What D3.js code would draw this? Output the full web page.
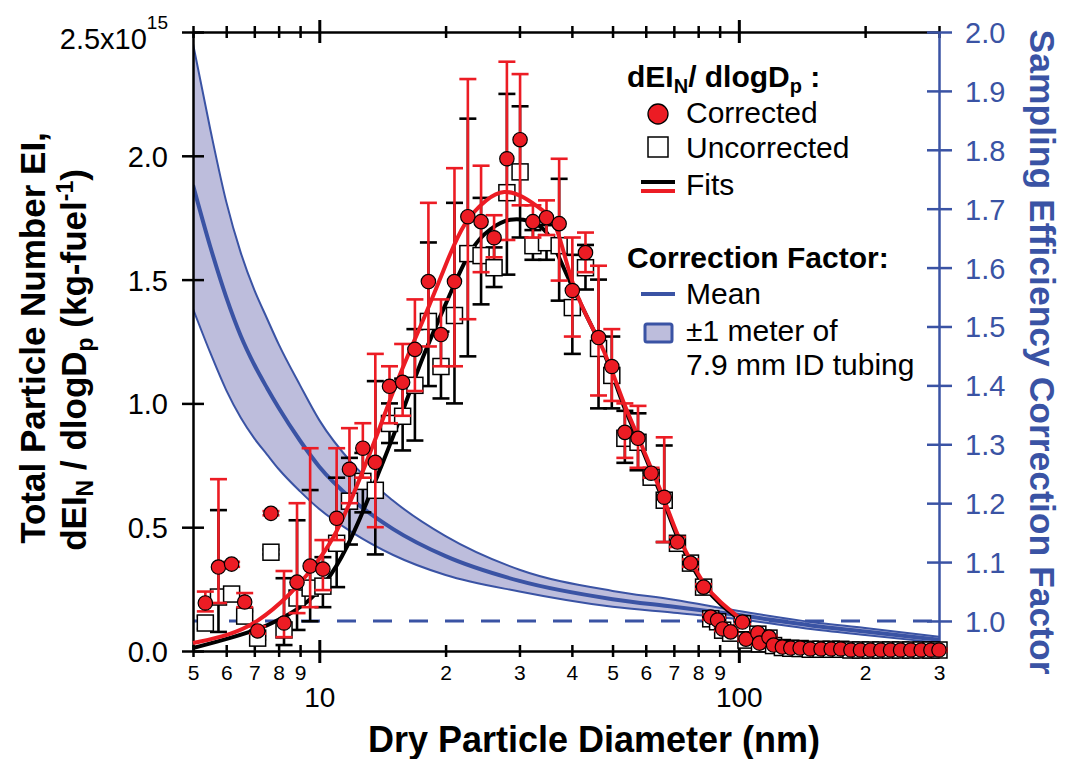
<!DOCTYPE html>
<html><head><meta charset="utf-8">
<script src="https://cdn.jsdelivr.net/npm/d3@7"></script>
<style>
body{margin:0;background:#fff;}
svg text{font-family:"Liberation Sans",Arial,Helvetica,sans-serif;}
</style></head><body>
<svg id="c" width="1065" height="759"></svg>
<script>
// ---------- DATA ----------
// SMPS bins (nm)
const diamMain = [5.35,5.75,6.18,6.64,7.13,7.67,8.24,8.85,9.51,10.2,11.0,11.8,12.7,13.6,14.7,15.8,16.9,18.2,19.5,21.0,22.6,24.3,26.1,28.0,30.1,32.3,34.8,37.3,40.1,43.1,46.3,49.8,53.5,57.5,61.8,66.4,71.4,76.7,82.4];
// corrected dEI_N/dlogDp (x1e15)
const corr   = [0.194,0.339,0.351,0.198,0.081,0.556,0.113,0.278,0.343,0.331,0.536,0.734,0.819,0.762,1.069,1.085,1.218,1.492,1.278,1.492,1.754,1.734,1.669,1.988,2.065,1.734,1.750,1.726,1.456,1.609,1.266,1.149,0.883,0.859,0.718,0.621,0.440,0.355,0.258];
const corrHi = [0.24,0.694,0.36,0.234,0.10,0.565,0.323,0.597,0.819,0.448,0.819,0.90,0.92,1.20,1.15,1.24,1.42,1.81,1.42,1.95,2.31,1.96,1.76,2.38,2.33,1.80,1.82,1.988,1.67,1.69,1.556,1.30,1.00,0.99,0.74,0.863,0.46,0.37,0.27];
const corrLo = [0.16,0.194,0.34,0.177,0.07,0.548,0.056,0.153,0.177,0.246,0.448,0.597,0.70,0.50,0.92,0.95,1.05,1.23,1.15,1.15,1.34,1.53,1.59,1.66,1.80,1.67,1.68,1.496,1.27,1.53,1.032,1.01,0.78,0.74,0.70,0.44,0.42,0.34,0.25];
// uncorrected
const unc    = [0.113,0.218,0.230,0.141,0.052,0.399,0.085,0.214,0.254,0.262,0.435,0.605,0.685,0.649,0.919,0.948,1.073,1.331,1.149,1.355,1.605,1.597,1.548,1.851,1.935,1.637,1.649,1.637,1.387,1.548,1.222,1.113,0.859,0.843,0.702,0.609,0.435,0.355,0.258];
const uncHi  = [0.14,0.569,0.24,0.16,0.06,0.41,0.294,0.528,0.65,0.379,0.70,0.78,0.80,1.09,1.00,1.10,1.30,1.65,1.29,1.81,2.15,1.83,1.63,2.25,2.20,1.70,1.72,1.907,1.60,1.64,1.50,1.27,0.97,0.96,0.72,0.83,0.45,0.37,0.27];
const uncLo  = [0.09,0.077,0.22,0.12,0.045,0.39,0.024,0.085,0.12,0.177,0.258,0.43,0.56,0.39,0.84,0.81,0.85,1.07,1.02,1.00,1.19,1.40,1.47,1.52,1.67,1.58,1.58,1.415,1.20,1.46,0.98,0.98,0.76,0.73,0.69,0.44,0.42,0.34,0.25];
// large-size tail
const diamTail = [85.7,89.0,91.5,95.6,102,104,111,112,118,121,127,133,140,148,157,166,175,185,195,206,218,230,243,257,272,287,300];
const corrTail = [0.137,0.125,0.089,0.077,0.117,0.048,0.073,0.032,0.056,0.024,0.016,0.012,0.012,0.008,0.008,0.008,0.008,0.004,0.004,0.004,0.004,0.004,0.004,0.004,0.004,0.004,0.004];
const uncTail  = [0.130,0.118,0.084,0.072,0.110,0.044,0.068,0.029,0.052,0.022,0.014,0.011,0.010,0.007,0.007,0.007,0.007,0.004,0.004,0.004,0.004,0.004,0.004,0.004,0.004,0.004,0.004];
const errTail  = [0.010,0.010,0.008,0.008,0.008,0.006,0.006,0.006,0.006,0.005,0.005,0.005,0.005,0.005,0.005,0.005,0.005,0.005,0.005,0.005,0.005,0.005,0.005,0.005,0.005,0.005,0.005];
// fits
const fitUncD = [5.0,6.13,7.34,8.52,9.51,11.0,12.5,14.0,15.3,17.7,20.5,22.9,25.6,28.5,31.9,35.0,36.9,40.4,46.1,49.4,53.1,57.4,61.6,66.2,71.5,76.8,82.5,90.5,99.4];
const fitUncV = [0.012,0.052,0.093,0.150,0.200,0.330,0.530,0.740,0.900,1.200,1.440,1.630,1.710,1.750,1.740,1.700,1.605,1.456,1.266,1.145,0.984,0.863,0.730,0.609,0.448,0.355,0.258,0.185,0.133];
const fitCorD = [5.0,6.13,7.1,8.52,9.66,10.8,12.0,13.6,15.3,17.7,20.2,22.0,25.2,27.5,30.6,34.2,36.9,40.1,46.2,49.4,53.1,57.4,61.6,66.2,71.5,76.8,82.5,90.5,99.9];
const fitCorV = [0.032,0.065,0.113,0.226,0.335,0.448,0.621,0.851,1.093,1.335,1.577,1.730,1.831,1.863,1.839,1.778,1.734,1.456,1.266,1.153,1.000,0.871,0.742,0.621,0.460,0.367,0.266,0.194,0.137];
// correction factor (right axis)
const cfD     = [5,5.5,6,6.5,7,7.5,8,9,10,12,15,20,30,50,70,100,150,200,300];
const cfUpper = [1.980,1.834,1.712,1.625,1.562,1.514,1.470,1.400,1.341,1.267,1.204,1.144,1.087,1.051,1.036,1.017,0.998,0.988,0.973];
const cfMean  = [1.740,1.635,1.550,1.484,1.435,1.396,1.362,1.306,1.262,1.206,1.156,1.110,1.068,1.037,1.024,1.010,0.992,0.982,0.968];
const cfLower = [1.530,1.455,1.392,1.345,1.310,1.283,1.258,1.220,1.190,1.150,1.112,1.078,1.050,1.024,1.014,1.003,0.986,0.976,0.963];
// ticks
const xMinor = [5,6,7,8,9,20,30,40,50,60,70,80,90,200,300];
const xMajor = [10,100];
const yTicks = [0,0.5,1,1.5,2,2.5];
const y2Ticks = [1.0,1.1,1.2,1.3,1.4,1.5,1.6,1.7,1.8,1.9,2.0];

// ---------- SETUP ----------
const L=193,R=939,T=32,B=651;
const blue="#3a53a4", red="#ec1c24", bandFill="#bdbddc";
const x=d3.scaleLog().domain([5,300]).range([L,R]);
const y=d3.scaleLinear().domain([0,2.5]).range([B,T]);
const y2=d3.scaleLinear().domain([0.949,2.0]).range([B,T]);
const svg=d3.select("#c");
svg.append("defs").append("clipPath").attr("id","plot").append("rect")
  .attr("x",L).attr("y",T-2).attr("width",R-L+6).attr("height",B-T+4);

// ---------- CORRECTION FACTOR BAND ----------
const cf=cfD.map((d,i)=>({d,m:cfMean[i],u:cfUpper[i],l:cfLower[i]}));
const gb=svg.append("g").attr("clip-path","url(#plot)");
gb.append("path").datum(cf).attr("fill",bandFill)
  .attr("d",d3.area().x(d=>x(d.d)).y0(d=>y2(d.l)).y1(d=>y2(d.u)).curve(d3.curveMonotoneX));
[["u",2],["l",2],["m",4]].forEach(([k,w])=>{
  gb.append("path").datum(cf).attr("fill","none").attr("stroke",blue).attr("stroke-width",w)
    .attr("d",d3.line().x(d=>x(d.d)).y(d=>y2(d[k])).curve(d3.curveMonotoneX));
});
gb.append("line").attr("x1",x(5)).attr("x2",x(300)).attr("y1",y2(1)).attr("y2",y2(1))
  .attr("stroke",blue).attr("stroke-width",3).attr("stroke-dasharray","19,17");

// ---------- AXES ----------
function styleAxis(g,color,w){
  g.selectAll("path.domain").attr("stroke",color).attr("stroke-width",w);
  g.selectAll(".tick line").attr("stroke",color).attr("stroke-width",w);
}
const leadDigit=d=>String(Math.round(d/Math.pow(10,Math.floor(Math.log10(d)+1e-9))));
// bottom
let g=svg.append("g").attr("transform",`translate(0,${B})`)
  .call(d3.axisBottom(x).tickValues(xMinor).tickSize(6).tickSizeOuter(0).tickFormat(leadDigit));
styleAxis(g,"#000",2.5);
g.selectAll("text").attr("y",29).attr("dy",null).attr("font-size",21).attr("fill","#000");
g=svg.append("g").attr("transform",`translate(0,${B})`)
  .call(d3.axisBottom(x).tickValues(xMinor).tickSize(-6).tickFormat(""));
g.select(".domain").remove(); styleAxis(g,"#000",2.5);
g=svg.append("g").attr("transform",`translate(0,${B})`)
  .call(d3.axisBottom(x).tickValues(xMajor).tickSize(12).tickFormat(d3.format("d")));
g.select(".domain").remove(); styleAxis(g,"#000",3);
g.selectAll("text").attr("y",56).attr("dy",null).attr("font-size",28).attr("fill","#000");
g=svg.append("g").attr("transform",`translate(0,${B})`)
  .call(d3.axisBottom(x).tickValues(xMajor).tickSize(-11).tickFormat(""));
g.select(".domain").remove(); styleAxis(g,"#000",3);
// top
g=svg.append("g").attr("transform",`translate(0,${T})`)
  .call(d3.axisTop(x).tickValues(xMinor).tickSize(6).tickSizeOuter(0).tickFormat(""));
styleAxis(g,"#000",2.5);
g=svg.append("g").attr("transform",`translate(0,${T})`)
  .call(d3.axisTop(x).tickValues(xMinor).tickSize(-6).tickFormat(""));
g.select(".domain").remove(); styleAxis(g,"#000",2.5);
g=svg.append("g").attr("transform",`translate(0,${T})`)
  .call(d3.axisTop(x).tickValues(xMajor).tickSize(12).tickFormat(""));
g.select(".domain").remove(); styleAxis(g,"#000",3);
g=svg.append("g").attr("transform",`translate(0,${T})`)
  .call(d3.axisTop(x).tickValues(xMajor).tickSize(-11).tickFormat(""));
g.select(".domain").remove(); styleAxis(g,"#000",3);
// left
g=svg.append("g").attr("transform",`translate(${L},0)`)
  .call(d3.axisLeft(y).tickValues(yTicks).tickSize(11).tickSizeOuter(0).tickPadding(14).tickFormat(d3.format(".1f")));
styleAxis(g,"#000",2.5);
g.selectAll("text").attr("font-size",29).attr("fill","#000").attr("dy","0.36em");
g.selectAll(".tick").filter(d=>d===2.5).select("text").attr("dy",null).attr("y",16)
  .text("2.5x10").append("tspan").attr("font-size",19).attr("dy",-20).text("15");
g=svg.append("g").attr("transform",`translate(${L},0)`)
  .call(d3.axisLeft(y).tickValues(yTicks).tickSize(-11).tickFormat(""));
g.select(".domain").remove(); styleAxis(g,"#000",2.5);
// right
g=svg.append("g").attr("transform",`translate(${R},0)`)
  .call(d3.axisRight(y2).tickValues(y2Ticks).tickSize(13).tickSizeOuter(0).tickPadding(13).tickFormat(d3.format(".1f")));
styleAxis(g,blue,2.5);
g.selectAll("text").attr("font-size",29).attr("fill",blue).attr("dy","0.36em");
g=svg.append("g").attr("transform",`translate(${R},0)`)
  .call(d3.axisRight(y2).tickValues(y2Ticks).tickSize(-12).tickFormat(""));
g.select(".domain").remove(); styleAxis(g,blue,2.5);

// ---------- DATA MARKS ----------
const pts=diamMain.map((d,i)=>({d,c:corr[i],ch:corrHi[i],cl:corrLo[i],u:unc[i],uh:uncHi[i],ul:uncLo[i]}))
  .concat(diamTail.map((d,i)=>({d,c:corrTail[i],ch:corrTail[i]+errTail[i],cl:corrTail[i]-errTail[i],
        u:uncTail[i],uh:uncTail[i]+errTail[i],ul:uncTail[i]-errTail[i]})));
const gd=svg.append("g");
function errBars(sel,hi,lo,color){
  const e=sel.append("g").selectAll("g").data(pts).join("g").attr("stroke",color).attr("stroke-width",2.6);
  e.append("line").attr("x1",d=>x(d.d)).attr("x2",d=>x(d.d)).attr("y1",d=>y(d[hi])).attr("y2",d=>y(d[lo]));
  e.append("line").attr("x1",d=>x(d.d)-8.5).attr("x2",d=>x(d.d)+8.5).attr("y1",d=>y(d[hi])).attr("y2",d=>y(d[hi]));
  e.append("line").attr("x1",d=>x(d.d)-8.5).attr("x2",d=>x(d.d)+8.5).attr("y1",d=>y(d[lo])).attr("y2",d=>y(d[lo]));
}
errBars(gd,"uh","ul","#000");
const fitU=fitUncD.map((d,i)=>({d,v:fitUncV[i]}));
const fitC=fitCorD.map((d,i)=>({d,v:fitCorV[i]}));
const fl=d3.line().x(d=>x(d.d)).y(d=>y(d.v)).curve(d3.curveBasis);
gd.append("path").datum(fitU).attr("d",fl).attr("fill","none").attr("stroke","#000").attr("stroke-width",4);
gd.append("g").selectAll("rect").data(pts).join("rect")
  .attr("x",d=>x(d.d)-8).attr("y",d=>y(d.u)-8).attr("width",16).attr("height",16)
  .attr("fill","#fff").attr("stroke","#000").attr("stroke-width",1.5);
gd.append("path").datum(fitC).attr("d",fl).attr("fill","none").attr("stroke",red).attr("stroke-width",4);
errBars(gd,"ch","cl",red);
gd.append("g").selectAll("circle").data(pts).join("circle")
  .attr("cx",d=>x(d.d)).attr("cy",d=>y(d.c)).attr("r",7.2)
  .attr("fill",red).attr("stroke","#000").attr("stroke-width",1.2);

// ---------- LEGEND ----------
const lg=svg.append("g").attr("font-size",30).attr("fill","#000");
let t=lg.append("text").attr("x",627).attr("y",87).attr("font-weight","bold");
t.append("tspan").text("dEI");
t.append("tspan").attr("font-size",20).attr("dy",6).text("N");
t.append("tspan").attr("dy",-6).text("/ dlogD");
t.append("tspan").attr("font-size",20).attr("dy",6).text("p");
t.append("tspan").attr("dy",-6).text(" :");
lg.append("circle").attr("cx",658).attr("cy",114).attr("r",10).attr("fill",red).attr("stroke","#000").attr("stroke-width",1.3);
lg.append("text").attr("x",686).attr("y",123).text("Corrected");
lg.append("rect").attr("x",648).attr("y",137).attr("width",20).attr("height",20).attr("fill","#fff").attr("stroke","#000").attr("stroke-width",1.5);
lg.append("text").attr("x",686).attr("y",158).text("Uncorrected");
lg.append("line").attr("x1",641).attr("x2",675).attr("y1",182).attr("y2",182).attr("stroke","#000").attr("stroke-width",4);
lg.append("line").attr("x1",641).attr("x2",675).attr("y1",191).attr("y2",191).attr("stroke",red).attr("stroke-width",4);
lg.append("text").attr("x",686).attr("y",195).text("Fits");
lg.append("text").attr("x",627).attr("y",268).attr("font-weight","bold").text("Correction Factor:");
lg.append("line").attr("x1",641).attr("x2",675).attr("y1",294).attr("y2",294).attr("stroke",blue).attr("stroke-width",4);
lg.append("text").attr("x",686).attr("y",304).text("Mean");
lg.append("rect").attr("x",645).attr("y",324).attr("width",27).attr("height",18).attr("rx",2)
  .attr("fill",bandFill).attr("stroke",blue).attr("stroke-width",3);
lg.append("text").attr("x",686).attr("y",341).text("\u00B11 meter of");
lg.append("text").attr("x",686).attr("y",375).text("7.9 mm ID tubing");

// ---------- TITLES ----------
svg.append("text").attr("x",594).attr("y",752).attr("text-anchor","middle")
  .attr("font-size",36).attr("font-weight","bold").text("Dry Particle Diameter (nm)");
svg.append("text").attr("transform","translate(45,338) rotate(-90)").attr("text-anchor","middle")
  .attr("font-size",35).attr("font-weight","bold").text("Total Particle Number EI,");
t=svg.append("text").attr("transform","translate(86,360) rotate(-90)").attr("text-anchor","middle")
  .attr("font-size",35).attr("font-weight","bold");
t.append("tspan").text("dEI");
t.append("tspan").attr("font-size",23).attr("dy",7).text("N");
t.append("tspan").attr("dy",-7).text(" / dlogD");
t.append("tspan").attr("font-size",23).attr("dy",7).text("p");
t.append("tspan").attr("dy",-7).text("  (kg-fuel");
t.append("tspan").attr("font-size",23).attr("dy",-13).text("-1");
t.append("tspan").attr("dy",13).text(")");
svg.append("text").attr("transform","translate(1030,352) rotate(90)").attr("text-anchor","middle")
  .attr("font-size",35.5).attr("font-weight","bold").attr("fill",blue).text("Sampling Efficiency Correction Factor");
</script>
</body></html>
